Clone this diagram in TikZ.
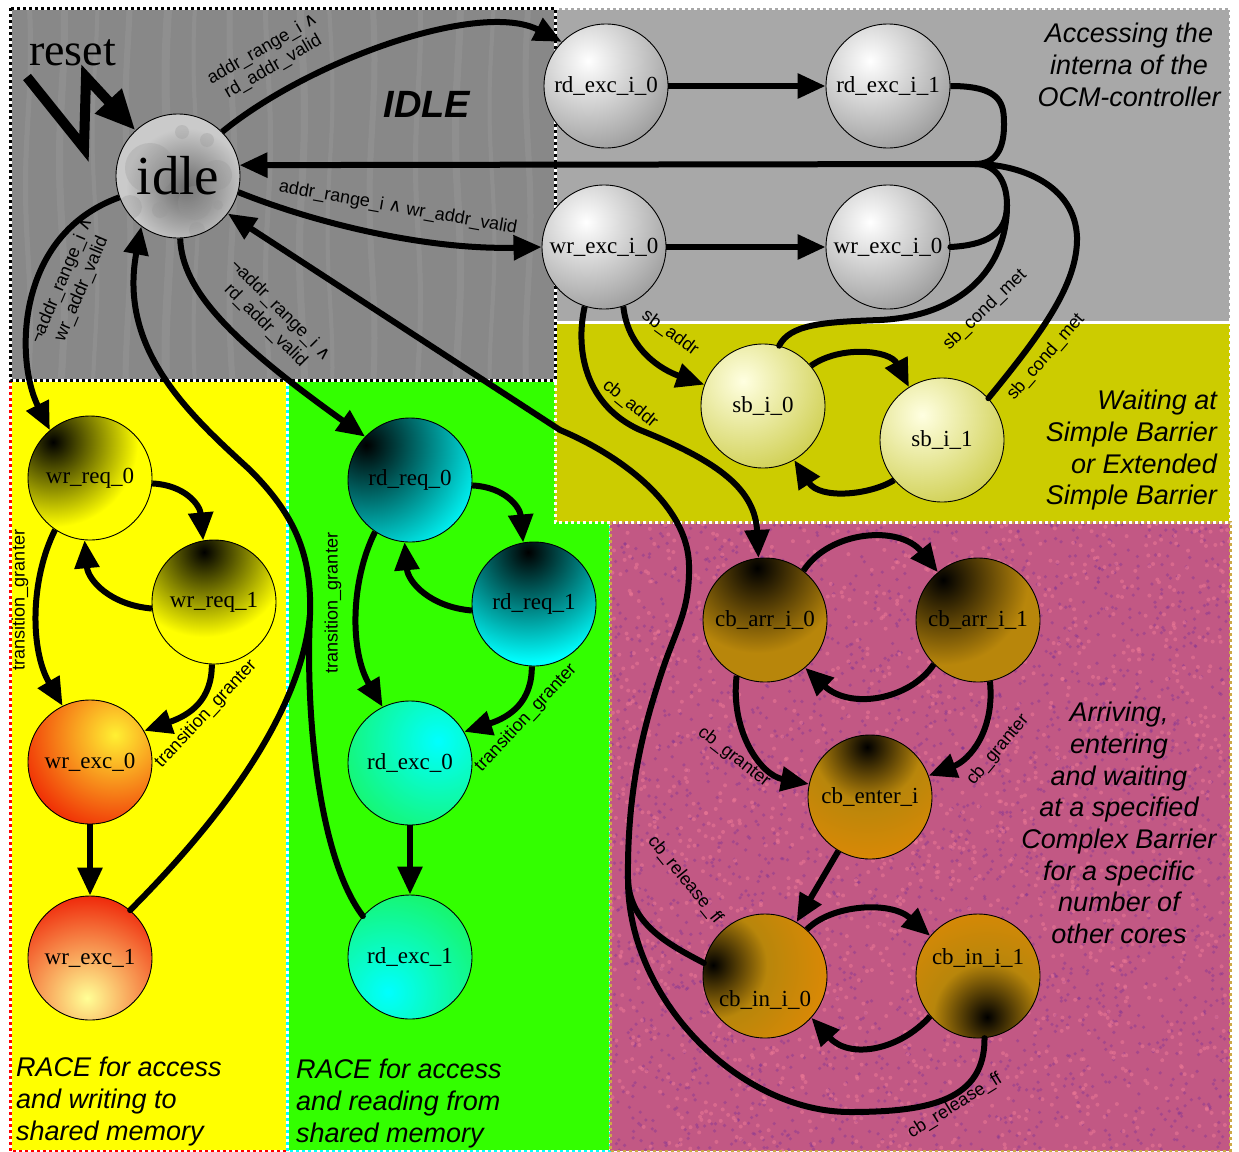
\documentclass[tikz,border=0pt]{standalone}
\usepackage{fontspec}
\setmainfont{Liberation Serif}
\setsansfont{Liberation Sans}
\newfontfamily\symbolfont{DejaVu Sans}
\usetikzlibrary{arrows.meta,calc}

\definecolor{woodgray}{RGB}{136,136,136}
\definecolor{woodlight}{RGB}{200,200,200}
\definecolor{panelgray}{RGB}{168,168,168}
\definecolor{barrierolive}{RGB}{204,204,0}
\definecolor{raceyellow}{RGB}{255,255,0}
\definecolor{racegreen}{RGB}{51,255,0}
\definecolor{rdcyan}{RGB}{0,255,255}
\definecolor{dotred}{RGB}{255,0,0}
\definecolor{cbpink}{RGB}{194,88,132}
\definecolor{cbspeckdark}{RGB}{125,50,150}
\definecolor{cbspecklight}{RGB}{238,122,150}
\definecolor{pinkedge}{RGB}{205,170,70}
\definecolor{idlebase}{RGB}{202,202,202}
\definecolor{idlespot}{RGB}{150,150,150}
\definecolor{idledark}{RGB}{105,105,105}
\definecolor{ballgray}{RGB}{140,140,140}
\definecolor{sbhigh}{RGB}{255,255,225}
\definecolor{sbbase}{RGB}{200,200,60}
\definecolor{excred}{RGB}{238,25,0}
\definecolor{excyellow}{RGB}{255,240,50}
\definecolor{exclight}{RGB}{255,255,150}
\definecolor{rdgreen}{RGB}{25,245,100}
\definecolor{cbgold}{RGB}{184,134,11}
\definecolor{cborange}{RGB}{255,140,0}

\pgfdeclareradialshading{cbspot}{\pgfpoint{0bp}{0bp}}{color(0bp)=(black); color(9bp)=(cbgold); color(30bp)=(cborange); color(50bp)=(cborange)}

\newcommand{\conj}{{\symbolfont ∧}}

\tikzset{
  state/.style={circle, draw=black, line width=0.9pt, minimum size=124pt, inner sep=0pt,
    font=\fontsize{23}{25}\selectfont},
  spot/.style n args={5}{path picture={
      \fill[#1] (path picture bounding box.south west) rectangle (path picture bounding box.north east);
      \shade[inner color=#2, outer color=#1] ($(path picture bounding box.center)+(#3,#4)$) circle (#5pt);}},
  cbball/.style n args={2}{path picture={
      \fill[cborange] (path picture bounding box.south west) rectangle (path picture bounding box.north east);
      \shade[shading=cbspot] ($(path picture bounding box.center)+(#1,#2)$) circle (150pt);}},
  idleball/.style={path picture={
      \fill[idlebase] (path picture bounding box.south west) rectangle (path picture bounding box.north east);
      \shade[inner color=idledark, outer color=idlebase] ($(path picture bounding box.center)+(8,12)$) circle (60pt);
      \foreach \dx/\dy/\rr in {-28/-8/25, 4/-44/7, 29/-36/7, -18/34/8, 17/27/17, 39/-1/15, 40/29/5, -48/31/12, 19/54/8}
        \fill[idlespot, opacity=.3] ($(path picture bounding box.center)+(\dx,\dy)$) circle (\rr pt);}},
  tr/.style={line width=6pt, -{Triangle[length=28pt,width=24pt]}},
  seg/.style={line width=6pt, line cap=round},
  lbl/.style={font=\sffamily\fontsize{18}{21}\selectfont, inner sep=0pt, align=center},
  caption/.style={font=\sffamily\itshape\fontsize{27}{31.7}\selectfont, inner sep=0pt},
  border/.style={line width=3pt, dash pattern=on 3pt off 3pt},
}

\begin{document}
\begin{tikzpicture}[x=1pt,y=-1pt]
\useasboundingbox (0,0) rectangle (1239,1151);
\fill[white] (0,0) rectangle (1239,1151);

% ---------- region backgrounds ----------
\fill[woodgray] (10,8) rectangle (555,380);
\begin{scope}
  \clip (10,8) rectangle (555,380);
  \foreach \x/\w in {28/5,62/7,95/4,128/6,168/8,196/4,232/6,268/5,302/7,330/4,372/6,418/5,458/7,492/4,528/6}
    \draw[woodlight, opacity=.12, line width=\w pt] plot[variable=\t, domain=8:380, samples=30, smooth] ({\x+2.5*sin(1.3*\t+\x)},\t);
\end{scope}
\fill[panelgray] (555,8) rectangle (1230,322);
\fill[raceyellow] (10,380) rectangle (287,1151);
\fill[racegreen] (287,380) rectangle (610,1151);
\draw[white, line width=3pt] (10,380) rectangle (287,1151);
\draw[border, dotred] (10,380) rectangle (287,1151);
\draw[white, line width=3pt] (287,380) rectangle (610,1151);
\draw[border, rdcyan] (287,380) rectangle (610,1151);
\fill[barrierolive] (555,322) rectangle (1230,522);
\fill[cbpink] (610,522) rectangle (1230,1151);
\begin{scope}
  \clip (610,522) rectangle (1230,1151);
  \pgfmathsetseed{42}
  \foreach \i in {1,...,2600}{
    \pgfmathsetmacro{\px}{610+620*rnd}
    \pgfmathsetmacro{\py}{522+629*rnd}
    \fill[cbspeckdark, opacity=.4] (\px,\py) circle (1.8pt);
  }
  \foreach \i in {1,...,1800}{
    \pgfmathsetmacro{\px}{610+620*rnd}
    \pgfmathsetmacro{\py}{522+629*rnd}
    \fill[cbspecklight, opacity=.5] (\px,\py) circle (2pt);
  }
\end{scope}

% ---------- region borders ----------
\draw[border, pinkedge] (610,522) rectangle (1230,1151);
\draw[border, white] (555,322) rectangle (1230,522);
\draw[border, white] (555,8) rectangle (1230,322);
\draw[white, line width=3pt] (10,8) rectangle (555,380);
\draw[border, black] (10,8) rectangle (555,380);

% ---------- states ----------
\node[state, idleball, font=\fontsize{55}{60}\selectfont] (idle) at (178,176) {idle};

\node[state, spot={ballgray}{white}{-18}{-25}{110}] (rdx0) at (606,86) {rd\_exc\_i\_0};
\node[state, spot={ballgray}{white}{-18}{-25}{110}] (rdx1) at (888,86) {rd\_exc\_i\_1};
\node[state, spot={ballgray}{white}{-18}{-25}{110}] (wrx0) at (604,247) {wr\_exc\_i\_0};
\node[state, spot={ballgray}{white}{-18}{-25}{110}] (wrx1) at (888,247) {wr\_exc\_i\_0};

\node[state, spot={sbbase}{sbhigh}{-20}{-25}{110}] (sb0) at (763,406) {sb\_i\_0};
\node[state, spot={sbbase}{sbhigh}{-20}{-25}{110}] (sb1) at (942,440) {sb\_i\_1};

\node[state, spot={raceyellow}{black}{-37}{-36}{85}] (wrq0) at (90,478) {wr\_req\_0};
\node[state, spot={raceyellow}{black}{-10}{-50}{85}] (wrq1) at (214,602) {wr\_req\_1};
\node[state, spot={excred}{excyellow}{25}{-27}{110}] (wre0) at (90,762) {wr\_exc\_0};
\node[state, spot={excred}{exclight}{-3}{40}{110}] (wre1) at (90,958) {wr\_exc\_1};

\node[state, spot={rdcyan}{black}{-44}{-35}{125}] (rdq0) at (410,480) {rd\_req\_0};
\node[state, spot={rdcyan}{black}{-6}{-52}{110}] (rdq1) at (534,604) {rd\_req\_1};
\node[state, spot={rdgreen}{rdcyan}{28}{-22}{110}] (rde0) at (410,763) {rd\_exc\_0};
\node[state, spot={rdgreen}{rdcyan}{-22}{35}{110}] (rde1) at (410,957) {rd\_exc\_1};

\node[state, spot={cbgold}{black}{-8}{-52}{85}] (cbA0) at (765,620) {cb\_arr\_i\_0};
\node[state, spot={cbgold}{black}{-35}{-40}{85}] (cbA1) at (978,620) {cb\_arr\_i\_1};
\node[state, cbball={-3}{-50}] (cbE) at (870,797) {cb\_enter\_i};
\node[state, cbball={-52}{-11}, text height=60pt, text depth=0pt] (cbi0) at (765,976) {cb\_in\_i\_0};
\node[state, cbball={9}{41}, text height=0pt, text depth=24pt] (cbi1) at (978,976) {cb\_in\_i\_1};

% ---------- reset ----------
\node[font=\fontsize{46}{50}\selectfont, inner sep=0pt, anchor=base west] (resetText) at (29,65) {reset};
\coordinate (z1) at (27,77);
\coordinate (z2) at (84,148);
\coordinate (z3) at (86,77);
\draw[line width=10pt, -{Triangle[length=40pt,width=34pt]}] (z1) -- (z2) -- (z3) -- (idle.133);

% ---------- transitions out of idle ----------
\draw[tr] (idle.45) .. controls (310,60) and (480,0) .. (rdx0.135);
\draw[tr] (idle.-15) .. controls (320,225) and (430,250) .. (wrx0.180);
\draw[tr] (idle.200) .. controls (15,235) and (15,360) .. (wrq0.130);
\draw[tr] (idle.-88) .. controls (182,290) and (230,340) .. (rdq0.136);

% ---------- internal accesses ----------
\draw[tr] (rdx0) -- (rdx1);
\draw[tr] (wrx0) -- (wrx1);
\coordinate (J) at (975,164);
\draw[tr] (rdx1.east) .. controls (1003,86) and (1004,105) .. (1004,125) .. controls (1004,150) and (995,164) .. (J) -- (idle.10);
\draw[seg] (wrx1.east) .. controls (985,245) and (1007,235) .. (1007,205) .. controls (1007,180) and (995,164) .. (J);
\draw[seg] (sb0.75) .. controls (790,325) and (820,322) .. (880,320) .. controls (960,316) and (1007,270) .. (1007,205);
\draw[seg] (sb1.42) .. controls (1040,335) and (1078,285) .. (1077,237) .. controls (1075,185) and (1020,164) .. (J);

% ---------- simple barrier ----------
\draw[tr] (wrx0.-72) .. controls (628,350) and (662,370) .. (sb0.160);
\draw[tr] (sb0.40) .. controls (840,345) and (890,350) .. (sb1.122);
\draw[tr] (sb1.220) .. controls (870,495) and (820,500) .. (sb0.-60);

% ---------- complex barrier ----------
\draw[tr] (wrx0.-108) .. controls (575,350) and (585,405) .. (640,430) .. controls (720,462) and (755,490) .. (cbA0.96);
\draw[tr] (cbA0.52) .. controls (830,530) and (900,525) .. (cbA1.130);
\draw[tr] (cbA1.-135) .. controls (910,700) and (850,710) .. (cbA0.-50);
\draw[tr] (cbA0.-117) .. controls (730,730) and (760,775) .. (cbE.168);
\draw[tr] (cbA1.-79) .. controls (995,730) and (970,760) .. (cbE.20);
\draw[tr] (cbE) -- (cbi0);
\draw[tr] (cbi0.48) .. controls (830,905) and (890,900) .. (cbi1.140);
\draw[tr] (cbi1.-140) .. controls (900,1050) and (850,1060) .. (cbi0.-42);
\coordinate (M2) at (628,880);
\draw[tr] (M2) .. controls (627,800) and (640,740) .. (657,687) .. controls (674,630) and (690,615) .. (689,565) .. controls (688,505) and (620,455) .. (560,430) -- (idle.-37);
\draw[seg] (cbi0.168) .. controls (670,945) and (630,925) .. (M2);
\draw[seg] (cbi1.-84) .. controls (985,1100) and (930,1112) .. (850,1112) .. controls (740,1112) and (628,1000) .. (M2);

% ---------- write race ----------
\draw[tr] (wrq0.-5) .. controls (185,485) and (200,505) .. (wrq1.100);
\draw[tr] (wrq1.186) .. controls (110,605) and (88,580) .. (wrq0.-95);
\draw[tr] (wrq0.-124) .. controls (30,580) and (30,650) .. (wre0.116);
\draw[tr] (wrq1.-92) .. controls (212,700) and (190,715) .. (wre0.30);
\draw[tr] (wre0) -- (wre1);

% ---------- read race ----------
\draw[tr] (rdq0.-5) .. controls (505,487) and (520,507) .. (rdq1.100);
\draw[tr] (rdq1.186) .. controls (430,607) and (408,582) .. (rdq0.-95);
\draw[tr] (rdq0.-124) .. controls (350,582) and (350,652) .. (rde0.116);
\draw[tr] (rdq1.-92) .. controls (532,702) and (510,717) .. (rde0.30);
\draw[tr] (rde0) -- (rde1);

% ---------- back to idle after the race ----------
\coordinate (M1) at (310,615);
\draw[tr] (M1) .. controls (312,555) and (295,515) .. (250,470) .. controls (190,415) and (118,350) .. (idle.234);
\draw[seg] (wre1.50) .. controls (210,830) and (300,720) .. (M1);
\draw[seg] (rde1.139) .. controls (320,860) and (305,720) .. (M1);

% ---------- transition labels ----------
\node[lbl, rotate=30] (l1) at (268,58) {addr\_range\_i \conj\\rd\_addr\_valid};
\node[lbl, rotate=-10] (l2) at (398,208) {addr\_range\_i \conj{} wr\_addr\_valid};
\node[lbl, rotate=67] (l3) at (72,285) {¬addr\_range\_i \conj\\wr\_addr\_valid};
\node[lbl, rotate=-45] (l4) at (273,318) {¬addr\_range\_i \conj\\rd\_addr\_valid};
\node[lbl, rotate=-36] (l5) at (670,333) {sb\_addr};
\node[lbl, rotate=-39] (l6) at (630,404) {cb\_addr};
\node[lbl, rotate=44] (l7) at (985,310) {sb\_cond\_met};
\node[lbl, rotate=49] (l8) at (1046,357) {sb\_cond\_met};
\node[lbl, rotate=90] (l9) at (20,600) {transition\_granter};
\node[lbl, rotate=47] (l10) at (206,714) {transition\_granter};
\node[lbl, rotate=90] (l11) at (333,603) {transition\_granter};
\node[lbl, rotate=47] (l12) at (526,718) {transition\_granter};
\node[lbl, rotate=-38] (l13) at (734,757) {cb\_granter};
\node[lbl, rotate=50] (l14) at (998,750) {cb\_granter};
\node[lbl, rotate=-51] (l15) at (685,880) {cb\_release\_ff};
\node[lbl, rotate=32] (l16) at (955,1106) {cb\_release\_ff};

% ---------- region captions ----------
\node[font=\sffamily\bfseries\itshape\fontsize{38}{40}\selectfont, inner sep=0pt] (idleTitle) at (427,104) {IDLE};
\node[caption, align=center, anchor=north] (capA) at (1129,23) {Accessing the\\interna of the\\OCM-controller};
\node[caption, align=right, anchor=north east] (capB) at (1217,390) {Waiting at\\Simple Barrier\\or Extended\\Simple Barrier};
\node[caption, align=center, anchor=north] (capC) at (1119,702) {Arriving,\\entering\\and waiting\\at a specified\\Complex Barrier\\for a specific\\number of\\other cores};
\node[caption, align=left, anchor=north west] (capD) at (16,1057) {RACE for access\\and writing to\\shared memory};
\node[caption, align=left, anchor=north west] (capE) at (296,1059) {RACE for access\\and reading from\\shared memory};
\end{tikzpicture}
\end{document}
